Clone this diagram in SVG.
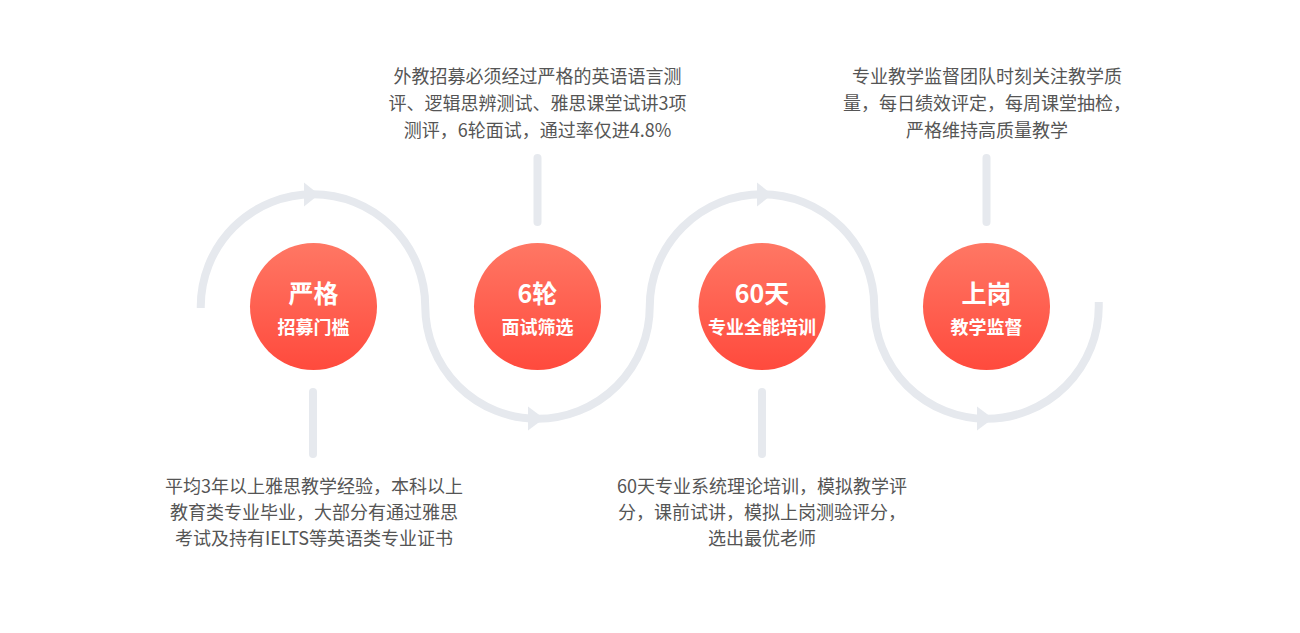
<svg xmlns="http://www.w3.org/2000/svg" width="1300" height="633" viewBox="0 0 1300 633">
<defs>
<linearGradient id="g" x1="0" y1="0" x2="0" y2="1">
<stop offset="0" stop-color="#ff7764"/>
<stop offset="1" stop-color="#ff4a3d"/>
</linearGradient>
<style>
.track{fill:none;stroke:#e6e9ee;stroke-width:8}
.stem{stroke:#e6e9ee;stroke-width:8;stroke-linecap:round}
.arr{fill:#e6e9ee}
.c{fill:url(#g)}
.t1{font-family:"Noto Sans CJK SC","Noto Sans",sans-serif;font-size:25px;font-weight:bold;fill:#fff;text-anchor:middle}
.t2{font-family:"Noto Sans CJK SC","Noto Sans",sans-serif;font-size:18px;font-weight:bold;fill:#fff;text-anchor:middle}
.d{font-family:"Noto Sans CJK SC","Noto Sans",sans-serif;font-size:18px;fill:#555;text-anchor:middle}
</style>
</defs>
<rect width="1300" height="633" fill="#fff"/>
<g id="connectors">
<path class="track" d="M 200.75 308 L 200.75 306.5 A 112.25 112.25 0 0 1 425.25 306.5 A 112.25 112.25 0 0 0 649.75 306.5 A 112.25 112.25 0 0 1 874.25 306.5 A 112.25 112.25 0 0 0 1098.75 306.5 L 1098.75 302"/>
<polygon class="arr" points="304,182.5 319,194.5 304,206.5"/>
<polygon class="arr" points="528,406.5 544,418.5 528,430.5"/>
<polygon class="arr" points="757,182.5 772,194.5 757,206.5"/>
<polygon class="arr" points="977,406.5 993,418.5 977,430.5"/>
<line class="stem" x1="313" y1="392" x2="313" y2="454"/>
<line class="stem" x1="537.5" y1="158" x2="537.5" y2="222"/>
<line class="stem" x1="762" y1="392" x2="762" y2="454"/>
<line class="stem" x1="986.5" y1="158" x2="986.5" y2="222"/>
</g>
<g id="node1">
<circle class="c" cx="313.5" cy="306.5" r="63.5"/>
<text class="t1" x="313.5" y="303">严格</text>
<text class="t2" x="313.5" y="334">招募门槛</text>
</g>
<g id="node2">
<circle class="c" cx="537.5" cy="306.5" r="63.5"/>
<text class="t1" x="537.5" y="303">6轮</text>
<text class="t2" x="537.5" y="334">面试筛选</text>
</g>
<g id="node3">
<circle class="c" cx="762" cy="306.5" r="63.5"/>
<text class="t1" x="762" y="303">60天</text>
<text class="t2" x="762" y="334">专业全能培训</text>
</g>
<g id="node4">
<circle class="c" cx="986.5" cy="306.5" r="63.5"/>
<text class="t1" x="986.5" y="303">上岗</text>
<text class="t2" x="986.5" y="334">教学监督</text>
</g>
<g id="desc1">
<text class="d" x="314" y="493">平均3年以上雅思教学经验，本科以上</text>
<text class="d" x="314" y="519">教育类专业毕业，大部分有通过雅思</text>
<text class="d" x="314" y="545">考试及持有IELTS等英语类专业证书</text>
</g>
<g id="desc2">
<text class="d" x="537.5" y="83">外教招募必须经过严格的英语语言测</text>
<text class="d" x="537.5" y="110">评、逻辑思辨测试、雅思课堂试讲3项</text>
<text class="d" x="537.5" y="137">测评，6轮面试，通过率仅进4.8%</text>
</g>
<g id="desc3">
<text class="d" x="762" y="493">60天专业系统理论培训，模拟教学评</text>
<text class="d" x="762" y="519">分，课前试讲，模拟上岗测验评分，</text>
<text class="d" x="762" y="545">选出最优老师</text>
</g>
<g id="desc4">
<text class="d" x="987" y="83">专业教学监督团队时刻关注教学质</text>
<text class="d" x="987" y="110">量，每日绩效评定，每周课堂抽检，</text>
<text class="d" x="987" y="137">严格维持高质量教学</text>
</g>
</svg>
